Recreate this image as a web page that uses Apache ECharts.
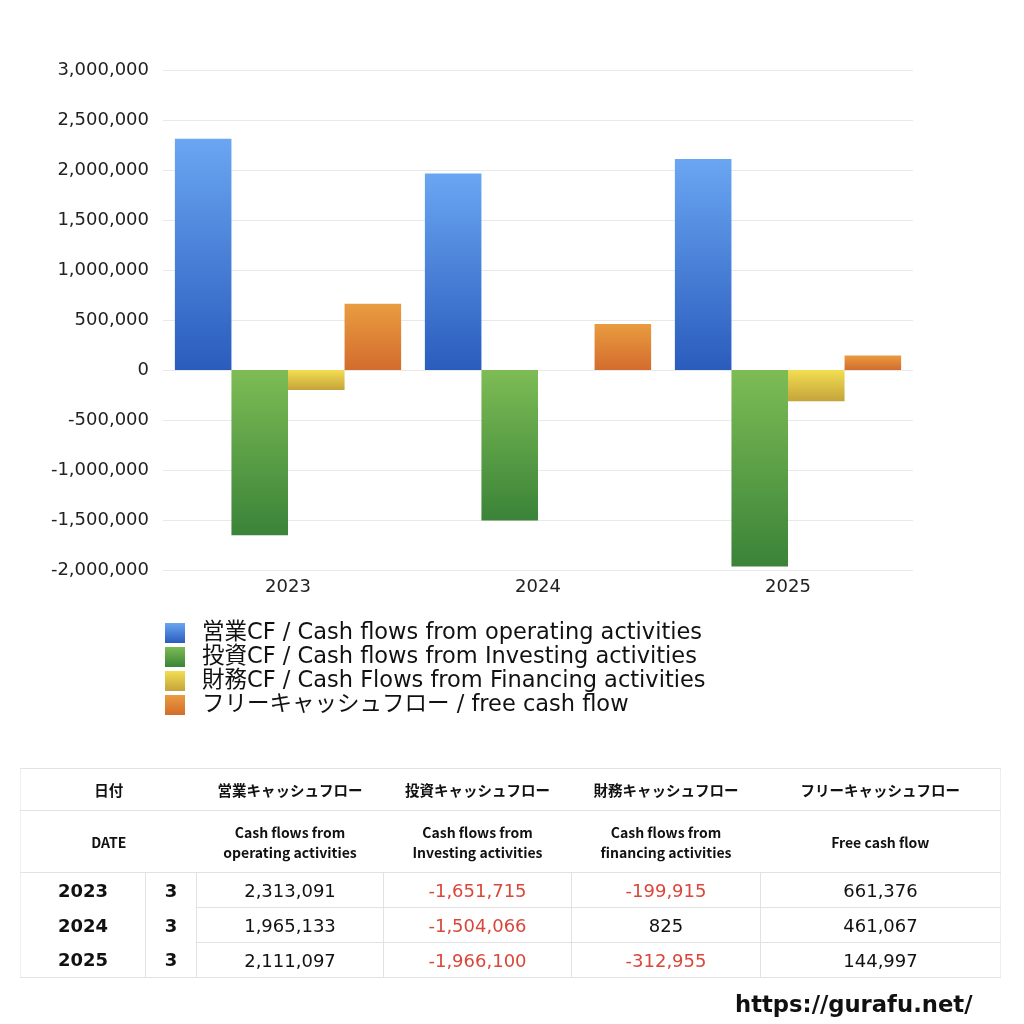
<!DOCTYPE html>
<html><head><meta charset="utf-8">
<script src="https://cdn.jsdelivr.net/npm/echarts@6/dist/echarts.min.js"></script>
<style>
html,body{margin:0;padding:0;background:#fff;width:1024px;height:1024px;overflow:hidden;font-family:"Noto Sans CJK JP","Noto Sans",sans-serif;}
#chart{position:absolute;left:0;top:0;width:1024px;height:1024px;}
#tbl{position:absolute;left:20px;top:768px;width:980px;border-collapse:collapse;table-layout:fixed;color:#111;}
#tbl td{padding:0;text-align:center;}
#tbl tr.h1 td{height:41px;font-size:14.5px;font-weight:bold;border-top:1px solid #e2e2e2;border-bottom:1px solid #e2e2e2;}
#tbl tr.h2 td{height:61px;font-size:14px;font-weight:bold;line-height:20px;border-bottom:1px solid #e2e2e2;}
#tbl tr.d td{height:34px;font-size:18px;border-left:1px solid #e2e2e2;font-family:"DejaVu Sans","Noto Sans CJK JP",sans-serif;}
#tbl tr.d td.y{font-weight:bold;border-left:none;}
#tbl tr.d td.m{font-weight:bold;}
#tbl tr.d td.v{border-bottom:1px solid #e2e2e2;}
#tbl tr.d:last-child td{border-bottom:1px solid #e2e2e2;}
#tbl .neg{color:#d9473b;}
#tbl tr.h1 td,#tbl tr.h2 td{border-left:none;}
#tbl{border-left:1px solid #eee;border-right:1px solid #eee;}
#wm{position:absolute;left:735px;top:991px;font-size:22.7px;font-weight:bold;color:#111;font-family:"DejaVu Sans","Noto Sans",sans-serif;}
</style></head>
<body>
<div id="chart"></div>
<table id="tbl">
<colgroup><col style="width:125px"><col style="width:51px"><col style="width:187px"><col style="width:188px"><col style="width:189px"><col style="width:240px"></colgroup>
<tbody id="tb"></tbody>
</table>
<div id="wm">https://gurafu.net/</div>
<script>
const categories = ['2023', '2024', '2025'];
const months = ['3', '3', '3'];
const operatingCF = [2313091, 1965133, 2111097];
const investingCF = [-1651715, -1504066, -1966100];
const financingCF = [-199915, 825, -312955];
const freeCF = [661376, 461067, 144997];
const seriesNames = [
  '営業CF / Cash flows from operating activities',
  '投資CF / Cash flows from Investing activities',
  '財務CF / Cash Flows from Financing activities',
  'フリーキャッシュフロー / free cash flow'
];
const tableHeadJa = ['営業キャッシュフロー', '投資キャッシュフロー', '財務キャッシュフロー', 'フリーキャッシュフロー'];
const tableHeadEn = ['Cash flows from<br>operating activities', 'Cash flows from<br>Investing activities', 'Cash flows from<br>financing activities', 'Free cash flow'];

const colors = [
  ['#6aa6f2', '#2a5cbd'],
  ['#7dbc55', '#3a8338'],
  ['#f2de52', '#c5a33a'],
  ['#e99c40', '#d36c2d']
];
function grad(c) {
  return new echarts.graphic.LinearGradient(0, 0, 0, 1, [{offset: 0, color: c[0]}, {offset: 1, color: c[1]}]);
}
const dataSets = [operatingCF, investingCF, financingCF, freeCF];
const latinFont = '"DejaVu Sans","Noto Sans CJK JP",sans-serif';
const chart = echarts.init(document.getElementById('chart'), null, {renderer: 'canvas'});
const fmt = v => v.toLocaleString('en-US');
chart.setOption({
  animation: false,
  textStyle: {fontFamily: latinFont},
  grid: {left: 163, right: 111, top: 70, bottom: 454, containLabel: false},
  legend: {
    orient: 'vertical', left: 165, top: 621, padding: 0,
    itemWidth: 20, itemHeight: 20, itemGap: 0,
    icon: 'rect',
    textStyle: {fontSize: 22.5, lineHeight: 19, color: '#111', padding: [5, 0, 0, 12], fontFamily: latinFont},
    data: seriesNames
  },
  xAxis: {
    type: 'category', data: categories,
    axisLine: {show: false}, axisTick: {show: false},
    axisLabel: {fontSize: 18, color: '#222', margin: 8}
  },
  yAxis: {
    type: 'value', min: -2000000, max: 3000000, interval: 500000,
    axisLine: {show: false}, axisTick: {show: false},
    axisLabel: {fontSize: 18, color: '#222', margin: 14, formatter: v => fmt(v)},
    splitLine: {lineStyle: {color: '#e9e9e9', width: 1}}
  },
  series: dataSets.map((d, i) => ({
    name: seriesNames[i], type: 'bar', data: d,
    barGap: '0%', barCategoryGap: '9.5%',
    itemStyle: {color: grad(colors[i])}
  }))
});

// table
const tb = document.getElementById('tb');
let html = '<tr class="h1"><td colspan="2">日付</td>' + tableHeadJa.map(t => '<td>' + t + '</td>').join('') + '</tr>';
html += '<tr class="h2"><td colspan="2">DATE</td>' + tableHeadEn.map(t => '<td>' + t + '</td>').join('') + '</tr>';
categories.forEach((c, r) => {
  html += '<tr class="d"><td class="y">' + c + '</td><td class="m">' + months[r] + '</td>';
  dataSets.forEach(d => {
    const v = d[r];
    html += '<td class="v' + (v < 0 ? ' neg' : '') + '">' + fmt(v) + '</td>';
  });
  html += '</tr>';
});
tb.innerHTML = html;
</script>
</body></html>
